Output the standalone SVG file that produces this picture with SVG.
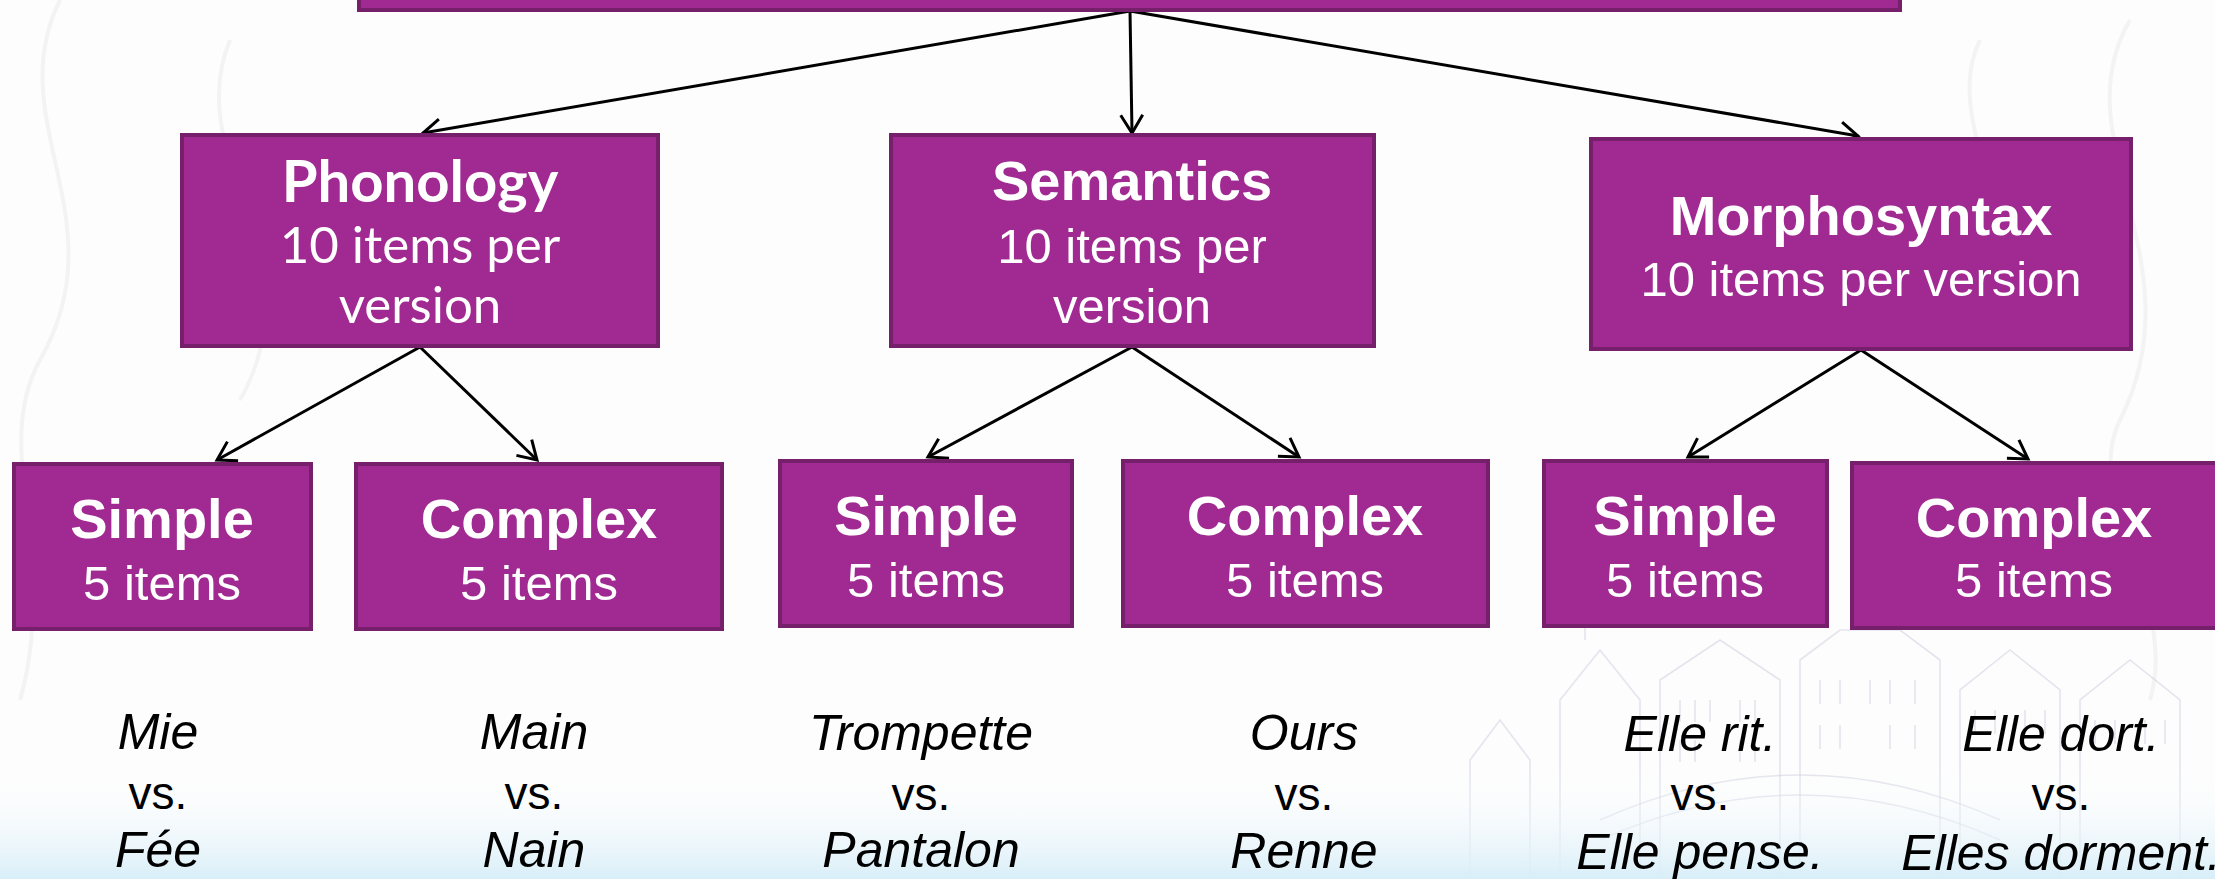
<svg xmlns="http://www.w3.org/2000/svg" width="2215" height="879" viewBox="0 0 2215 879">
  <defs>
    <style>
      .box { fill: #A02A91; stroke: #76206B; stroke-width: 4; }
      .title { font-family: "Liberation Sans", Arial, sans-serif; font-weight: bold; font-size: 56px; fill: #ffffff; text-anchor: middle; }
      .sub { font-family: "Liberation Sans", Arial, sans-serif; font-size: 49px; fill: #ffffff; text-anchor: middle; }
      .titleH { font-family: Lato, "Liberation Sans", sans-serif; font-weight: bold; font-size: 58px; fill: #ffffff; text-anchor: middle; }
      .subH { font-family: Lato, "Liberation Sans", sans-serif; font-size: 51px; fill: #ffffff; text-anchor: middle; }
      .word { font-family: "Liberation Sans", Arial, sans-serif; font-style: italic; font-size: 50px; fill: #000000; text-anchor: middle; }
      .vs { font-family: "Liberation Sans", Arial, sans-serif; font-size: 46px; fill: #000000; text-anchor: middle; }
      .link { stroke: #000000; stroke-width: 3; fill: none; marker-end: url(#arrow); }
      .sketch { stroke: #c6c6da; stroke-width: 1.6; fill: none; opacity: 0.45; }
      .swirl { stroke: #f3f3f3; stroke-width: 4; fill: none; }
    </style>
    <marker id="arrow" viewBox="0 0 22 22" refX="20" refY="11" markerWidth="22" markerHeight="22" markerUnits="userSpaceOnUse" orient="auto" overflow="visible">
      <path d="M2,0 L20,11 L2,22" fill="none" stroke="#000000" stroke-width="3"/>
    </marker>
    <linearGradient id="floor" x1="0" y1="0" x2="0" y2="1">
      <stop offset="0" stop-color="#ffffff" stop-opacity="0"/>
      <stop offset="1" stop-color="#d8eef8" stop-opacity="1"/>
    </linearGradient>
  </defs>

  <!-- page background -->
  <rect x="0" y="0" width="2215" height="879" fill="#fdfdfd"/>
  <g id="background-ornament">
    <path class="swirl" d="M60,0 C0,120 120,220 40,360 C-10,450 60,560 20,700"/>
    <path class="swirl" d="M230,40 C180,160 320,260 240,400"/>
    <path class="swirl" d="M2130,20 C2060,140 2200,260 2120,420 C2080,500 2180,600 2150,700"/>
    <path class="swirl" d="M1980,40 C1940,120 2030,220 1990,330"/>
  </g>
  <g id="city-sketch">
    <path class="sketch" d="M1470,879 L1470,760 L1500,720 L1530,760 L1530,879"/>
    <path class="sketch" d="M1560,879 L1560,700 L1600,650 L1640,700 L1640,879"/>
    <path class="sketch" d="M1585,640 L1585,610 M1575,620 L1595,620"/>
    <path class="sketch" d="M1660,879 L1660,680 L1720,640 L1780,680 L1780,879"/>
    <path class="sketch" d="M1800,879 L1800,660 L1840,630 L1900,630 L1940,660 L1940,879"/>
    <path class="sketch" d="M1960,879 L1960,690 L2010,650 L2060,690 L2060,879"/>
    <path class="sketch" d="M2080,879 L2080,700 L2130,660 L2180,700 L2180,879"/>
    <path class="sketch" d="M1600,820 Q1800,730 2000,820 M1600,840 Q1800,750 2000,840"/>
    <path class="sketch" d="M1680,700 l0,22 M1695,700 l0,22 M1710,700 l0,22 M1740,700 l0,22 M1755,700 l0,22"/>
    <path class="sketch" d="M1680,740 l0,22 M1695,740 l0,22 M1740,740 l0,22 M1755,740 l0,22"/>
    <path class="sketch" d="M1820,680 l0,24 M1840,680 l0,24 M1870,680 l0,24 M1890,680 l0,24 M1915,680 l0,24"/>
    <path class="sketch" d="M1820,725 l0,24 M1840,725 l0,24 M1890,725 l0,24 M1915,725 l0,24"/>
    <path class="sketch" d="M1975,710 l0,24 M1995,710 l0,24 M2025,710 l0,24 M2045,710 l0,24"/>
    <path class="sketch" d="M2095,720 l0,24 M2115,720 l0,24 M2145,720 l0,24 M2165,720 l0,24"/>
  </g>
  <rect x="0" y="770" width="2215" height="109" fill="url(#floor)"/>

  <!-- connectors -->
  <g id="connectors">
    <line class="link" x1="1130" y1="11" x2="423" y2="133"/>
    <line class="link" x1="1130" y1="11" x2="1132" y2="133"/>
    <line class="link" x1="1130" y1="11" x2="1858" y2="136"/>
    <line class="link" x1="420" y1="347" x2="217" y2="460"/>
    <line class="link" x1="420" y1="347" x2="537" y2="460"/>
    <line class="link" x1="1132" y1="347" x2="928" y2="457"/>
    <line class="link" x1="1132" y1="347" x2="1299" y2="457"/>
    <line class="link" x1="1861" y1="350" x2="1688" y2="457"/>
    <line class="link" x1="1861" y1="350" x2="2028" y2="459"/>
  </g>

  <!-- root box, only its lower edge shows -->
  <g id="root">
    <rect class="box" x="359" y="-60" width="1541" height="70"/>
  </g>

  <g id="phonology">
    <rect class="box" x="182" y="135" width="476" height="211"/>
    <text class="titleH" x="420" y="202">Phonology</text>
    <text class="subH" x="420" y="263">10 items per</text>
    <text class="subH" x="420" y="323">version</text>
  </g>
  <g id="semantics">
    <rect class="box" x="891" y="135" width="483" height="211"/>
    <text class="title" x="1132" y="200">Semantics</text>
    <text class="sub" x="1132" y="263">10 items per</text>
    <text class="sub" x="1132" y="323">version</text>
  </g>
  <g id="morphosyntax">
    <rect class="box" x="1591" y="139" width="540" height="210"/>
    <text class="title" x="1861" y="235">Morphosyntax</text>
    <text class="sub" x="1861" y="296">10 items per version</text>
  </g>

  <g id="phon-simple">
    <rect class="box" x="14" y="464" width="297" height="165"/>
    <text class="title" x="162" y="538">Simple</text>
    <text class="sub" x="162" y="600">5 items</text>
  </g>
  <g id="phon-complex">
    <rect class="box" x="356" y="464" width="366" height="165"/>
    <text class="title" x="539" y="538">Complex</text>
    <text class="sub" x="539" y="600">5 items</text>
  </g>
  <g id="sem-simple">
    <rect class="box" x="780" y="461" width="292" height="165"/>
    <text class="title" x="926" y="535">Simple</text>
    <text class="sub" x="926" y="597">5 items</text>
  </g>
  <g id="sem-complex">
    <rect class="box" x="1123" y="461" width="365" height="165"/>
    <text class="title" x="1305" y="535">Complex</text>
    <text class="sub" x="1305" y="597">5 items</text>
  </g>
  <g id="morph-simple">
    <rect class="box" x="1544" y="461" width="283" height="165"/>
    <text class="title" x="1685" y="535">Simple</text>
    <text class="sub" x="1685" y="597">5 items</text>
  </g>
  <g id="morph-complex">
    <rect class="box" x="1852" y="463" width="366" height="165"/>
    <text class="title" x="2034" y="537">Complex</text>
    <text class="sub" x="2034" y="597">5 items</text>
  </g>

  <!-- example pairs -->
  <g id="examples">
    <text class="word" x="158" y="749">Mie</text>
    <text class="vs" x="158" y="809">vs.</text>
    <text class="word" x="158" y="867">Fée</text>

    <text class="word" x="534" y="749">Main</text>
    <text class="vs" x="534" y="809">vs.</text>
    <text class="word" x="534" y="867">Nain</text>

    <text class="word" x="921" y="750">Trompette</text>
    <text class="vs" x="921" y="810">vs.</text>
    <text class="word" x="921" y="867">Pantalon</text>

    <text class="word" x="1304" y="750">Ours</text>
    <text class="vs" x="1304" y="810">vs.</text>
    <text class="word" x="1304" y="868">Renne</text>

    <text class="word" x="1700" y="751">Elle rit.</text>
    <text class="vs" x="1700" y="810">vs.</text>
    <text class="word" x="1700" y="869">Elle pense.</text>

    <text class="word" x="2061" y="751">Elle dort.</text>
    <text class="vs" x="2061" y="810">vs.</text>
    <text class="word" x="2061" y="870">Elles dorment.</text>
  </g>
</svg>
